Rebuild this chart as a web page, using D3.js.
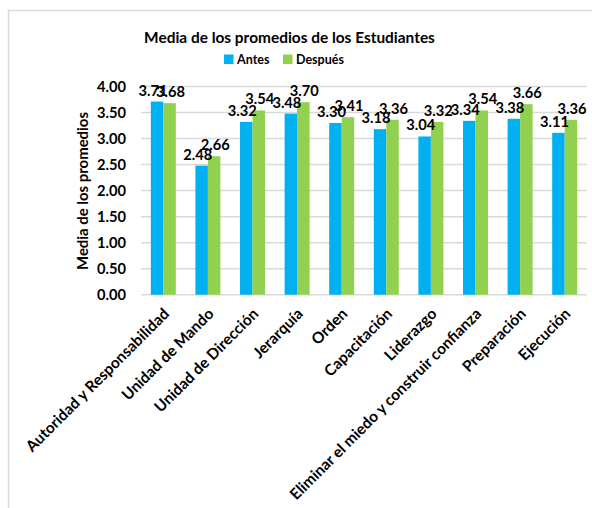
<!DOCTYPE html>
<html><head><meta charset="utf-8">
<script src="https://cdn.jsdelivr.net/npm/d3@7"></script>
<style>body{margin:0;background:#fff}text{font-family:Lato,"Open Sans",sans-serif;font-weight:bold;fill:#000}</style>
</head><body>
<svg id="c" width="592" height="508"></svg>
<script>
const categories = ["Autoridad y Responsabilidad","Unidad de Mando","Unidad de Dirección","Jerarquía","Orden","Capacitación","Liderazgo","Eliminar el miedo y construir confianza","Preparación","Ejecución"];
const seriesNames = ["Antes","Después"];
const antes = [3.71,2.48,3.32,3.48,3.30,3.18,3.04,3.34,3.38,3.11];
const despues = [3.68,2.66,3.54,3.70,3.41,3.36,3.32,3.54,3.66,3.36];
const yTicks = [0,0.5,1,1.5,2,2.5,3,3.5,4];
const title = "Media de los promedios de los Estudiantes";
const yTitle = "Media de los promedios";

const colors = {"Antes":"#00B0F0","Después":"#92D050"};
const labelDx = {"Antes":-4,"Después":1};
const svg = d3.select("#c");
svg.append("rect").attr("x",8.5).attr("y",10.5).attr("width",620).attr("height",540)
  .attr("fill","#fff").attr("stroke","#d9d9d9").attr("stroke-width",1.5);

function fit(sel, target){
  const w = sel.node().getComputedTextLength();
  const fs = parseFloat(sel.attr("font-size"));
  sel.attr("font-size", (fs*target/w).toFixed(2));
  return fs*target/w;
}

const x = d3.scaleBand().domain(categories).range([141,587]).paddingInner(0.44).paddingOuter(0.22);
const x1 = d3.scaleBand().domain(seriesNames).range([0,x.bandwidth()]);
const y = d3.scaleLinear().domain([0,4]).range([294.7,86.5]);

// gridlines
svg.append("g").selectAll("line").data(yTicks).join("line")
  .attr("x1",141).attr("x2",587).attr("y1",d=>y(d)).attr("y2",d=>y(d))
  .attr("stroke","#d9d9d9").attr("stroke-width",1.5);

// y axis labels
const yAxis = d3.axisLeft(y).tickValues(yTicks).tickFormat(d3.format(".2f")).tickSize(0).tickPadding(0);
const ga = svg.append("g").attr("transform","translate(126,0)").call(yAxis);
ga.select(".domain").remove();
ga.selectAll("text").attr("font-size",14).attr("font-family","Lato").attr("font-weight","bold").attr("fill","#000");
const tfs = fit(ga.select(".tick:last-of-type text"), 29);
ga.selectAll("text").attr("font-size",tfs);

// bars
const data = categories.map((c,i)=>({c, vals:[{s:"Antes",v:antes[i]},{s:"Después",v:despues[i]}]}));
const g = svg.append("g").selectAll("g").data(data).join("g").attr("transform",d=>`translate(${x(d.c)},0)`);
g.selectAll("rect").data(d=>d.vals).join("rect")
  .attr("x",d=>x1(d.s)).attr("width",x1.bandwidth())
  .attr("y",d=>y(d.v)).attr("height",d=>y(0)-y(d.v)).attr("fill",d=>colors[d.s]);
g.selectAll("text").data(d=>d.vals).join("text")
  .attr("x",d=>x1(d.s)+x1.bandwidth()/2+labelDx[d.s]).attr("y",d=>y(d.v)-6)
  .attr("text-anchor","middle").attr("font-size",tfs).text(d=>d.v.toFixed(2));

// x labels
const xl = svg.append("g").selectAll("text").data(categories).join("text")
  .attr("transform",d=>`translate(${x(d)+x.bandwidth()/2+3},311) rotate(-45)`)
  .attr("text-anchor","end").attr("dy","0.35em").attr("font-size",14).text(d=>d);
const xfs = fit(xl.filter((d,i)=>i===0), 195);
xl.attr("font-size",xfs);

// y title
const yt = svg.append("text").attr("transform","translate(83,191) rotate(-90)")
  .attr("text-anchor","middle").attr("dy","0.35em").attr("font-size",14).text(yTitle);
fit(yt,158);

// title
const tt = svg.append("text").attr("x",289.5).attr("y",43).attr("text-anchor","middle").attr("font-size",17).text(title);
fit(tt,291);

// legend
const leg = [{s:"Antes",x:224},{s:"Después",x:283}];
const lg = svg.append("g").selectAll("g").data(leg).join("g");
lg.append("rect").attr("x",d=>d.x).attr("y",54.5).attr("width",9.5).attr("height",9.5).attr("fill",d=>colors[d.s]);
const lt = lg.append("text").attr("x",d=>d.x+13).attr("y",64).attr("font-size",13).text(d=>d.s);
const lfs = fit(lt.filter((d,i)=>i===1), 48);
lt.attr("font-size",lfs);
</script>
</body></html>
